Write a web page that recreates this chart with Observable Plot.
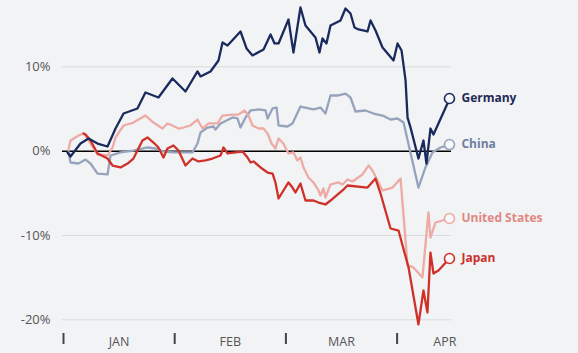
<!DOCTYPE html>
<html>
<head>
<meta charset="utf-8">
<script src="https://cdn.jsdelivr.net/npm/d3@7"></script>
<script src="https://cdn.jsdelivr.net/npm/@observablehq/plot@0.6"></script>
<style>
  html, body { margin: 0; padding: 0; background: #f2f3f5; }
  #chart svg { display: block; }
</style>
</head>
<body>
<div id="chart"></div>
<script>
// x in months since Jan 1 (0 = Jan 1, 1 = Feb 1, ...), y in % change
const monthTicks = [0, 1, 2, 3];
const monthLabelPos = [0.5, 1.5, 2.5, 3.43];
const monthLabels = ["JAN", "FEB", "MAR", "APR"];
const yTicks = [-20, -10, 0, 10];

const germanyT = [0.036,0.063,0.153,0.225,0.306,0.396,0.468,0.540,0.665,0.737,0.854,0.980,1.097,1.205,1.232,1.322,1.394,1.430,1.475,1.592,1.646,1.700,1.799,1.862,1.898,1.934,2.023,2.068,2.131,2.176,2.266,2.302,2.329,2.365,2.401,2.491,2.536,2.581,2.617,2.653,2.734,2.761,2.806,2.869,2.968,3.004,3.040,3.076,3.094,3.121,3.192,3.237,3.264,3.300,3.327,3.453,3.471];
const germanyV = [-0.15,-0.63,0.91,1.51,0.91,0.56,2.69,4.47,5.07,6.96,6.37,8.62,7.08,9.46,8.87,9.46,10.76,12.90,12.54,14.20,12.19,11.36,12.07,13.84,12.78,12.78,15.62,11.71,17.05,14.91,13.49,11.71,13.37,12.78,14.91,15.51,16.93,16.33,14.67,14.44,14.20,15.51,14.32,12.30,10.76,12.78,11.95,8.39,3.99,2.80,-0.87,1.27,-1.46,2.69,1.98,5.66,6.25];

const chinaT = [0.045,0.063,0.135,0.198,0.243,0.306,0.396,0.423,0.513,0.629,0.755,0.827,0.899,0.989,1.115,1.160,1.205,1.232,1.295,1.349,1.367,1.412,1.520,1.565,1.592,1.637,1.682,1.754,1.817,1.835,1.880,1.916,1.934,2.014,2.059,2.131,2.248,2.311,2.356,2.401,2.473,2.536,2.581,2.626,2.716,2.788,2.869,2.941,3.004,3.058,3.192,3.255,3.318,3.390,3.471];
const chinaV = [-0.04,-1.34,-1.46,-0.99,-1.46,-2.65,-2.76,-0.51,-0.15,0.08,0.44,0.32,-0.04,-0.15,-0.15,-0.15,0.91,2.22,2.81,2.93,2.57,3.29,4.00,3.88,2.81,4.00,4.83,4.95,4.83,3.88,5.07,5.18,3.05,2.93,3.29,5.30,4.95,5.18,4.47,6.61,6.61,6.84,6.37,4.71,4.83,4.47,4.23,3.76,3.88,3.40,-4.31,-1.93,-0.15,0.44,0.79];

const usT = [0.045,0.063,0.135,0.180,0.198,0.243,0.306,0.396,0.441,0.468,0.540,0.629,0.737,0.809,0.890,0.935,0.980,1.034,1.079,1.142,1.205,1.250,1.304,1.385,1.430,1.520,1.574,1.628,1.664,1.700,1.754,1.799,1.835,1.871,1.906,1.934,1.978,2.023,2.068,2.104,2.131,2.158,2.203,2.248,2.293,2.311,2.338,2.356,2.401,2.473,2.509,2.554,2.599,2.689,2.743,2.779,2.824,2.869,2.959,3.031,3.094,3.147,3.228,3.282,3.300,3.345,3.408,3.471];
const usV = [0.20,1.27,1.86,2.10,1.86,0.91,-0.39,-0.51,0.44,1.63,3.05,3.40,4.23,3.40,2.69,3.29,3.05,2.69,2.81,3.05,3.76,2.69,3.29,3.29,4.23,4.35,4.35,4.83,4.23,3.05,2.69,2.69,2.10,0.91,0.32,1.51,0.91,-0.27,-0.15,-1.10,-0.75,-1.93,-3.12,-3.71,-4.66,-5.26,-4.42,-5.49,-3.95,-3.71,-3.95,-3.36,-3.59,-2.76,-1.70,-2.29,-3.48,-4.66,-4.31,-3.24,-13.55,-13.79,-14.98,-7.27,-10.24,-8.46,-8.22,-7.98];

const japanT = [0.180,0.198,0.243,0.306,0.396,0.441,0.513,0.576,0.629,0.710,0.755,0.809,0.854,0.899,0.935,0.989,1.034,1.097,1.160,1.214,1.277,1.340,1.412,1.439,1.475,1.547,1.610,1.655,1.682,1.709,1.772,1.835,1.880,1.906,1.934,2.023,2.059,2.086,2.131,2.176,2.248,2.293,2.356,2.401,2.509,2.554,2.734,2.806,2.851,2.941,3.013,3.049,3.103,3.192,3.237,3.273,3.300,3.327,3.372,3.471];
const japanV = [2.10,1.98,1.27,-0.27,-0.87,-1.70,-1.93,-1.46,-0.87,1.27,1.63,1.03,0.44,-0.75,0.32,0.68,0.08,-1.70,-0.87,-1.22,-1.10,-0.87,-0.51,0.44,-0.27,-0.15,-0.04,-0.75,-1.34,-1.22,-1.93,-2.53,-2.65,-3.71,-5.61,-3.71,-4.31,-4.90,-3.83,-5.85,-5.85,-6.09,-6.32,-5.85,-4.66,-4.07,-4.31,-3.24,-5.02,-9.17,-9.41,-11.19,-13.79,-20.55,-16.52,-19.13,-12.02,-14.51,-14.15,-12.73];

const seriesNames = ["China", "United States", "Japan", "Germany"];
const lineColors = {"Germany": "#1b2a5c", "China": "#96a3bd", "United States": "#eeaaa5", "Japan": "#cf3129"};
const labelColors = {"Germany": "#1e2a55", "China": "#6f7f9f", "United States": "#e08883", "Japan": "#c9302a"};
const seriesData = {
  "China": [chinaT, chinaV],
  "United States": [usT, usV],
  "Japan": [japanT, japanV],
  "Germany": [germanyT, germanyV]
};

const rows = seriesNames.flatMap(name => {
  const [ts, vs] = seriesData[name];
  return ts.map((t, i) => ({name, t, v: vs[i]}));
});
const lastRows = seriesNames.map(name => {
  const [ts, vs] = seriesData[name];
  return {name, t: ts[ts.length - 1], v: vs[vs.length - 1]};
});

const chart = Plot.plot({
  width: 578,
  height: 353,
  marginLeft: 62,
  marginRight: 127,
  marginTop: 0,
  marginBottom: 20,
  style: {background: "#f2f3f5", fontFamily: "'Open Sans', sans-serif", color: "#555"},
  x: {domain: [0, 3], range: [63, 396.6], label: null},
  y: {domain: [-20, 10], range: [319.3, 66.4], label: null},
  marks: [
    Plot.ruleY(yTicks.filter(d => d !== 0), {stroke: "#d9dbe0", strokeWidth: 1}),
    Plot.ruleY([0], {stroke: "#000000", strokeWidth: 1.5, strokeOpacity: 1}),
    Plot.axisY(yTicks, {label: null, tickSize: 0, tickPadding: 12, tickFormat: d => d + "%", fontSize: 13, fill: "#555"}),
    Plot.axisX(monthTicks, {label: null, tickSize: 11, tickFormat: () => "", stroke: "#444", strokeWidth: 2}),
    Plot.axisX(monthLabelPos, {label: null, tickSize: 0, tickPadding: 4, tickFormat: (d, i) => monthLabels[i], fontSize: 12.5, fill: "#555"}),
    Plot.line(rows, {x: "t", y: "v", z: "name", stroke: d => lineColors[d.name], strokeWidth: 2.3, curve: "linear"}),
    Plot.dot(lastRows, {x: "t", y: "v", r: 5, fill: "#f7f8fa", stroke: d => lineColors[d.name], strokeWidth: 1.6}),
    Plot.text(lastRows, {x: "t", y: "v", text: "name", dx: 12, textAnchor: "start", fontWeight: "bold", fontSize: 12, fill: d => labelColors[d.name]})
  ]
});
document.getElementById("chart").appendChild(chart);
</script>
</body>
</html>
